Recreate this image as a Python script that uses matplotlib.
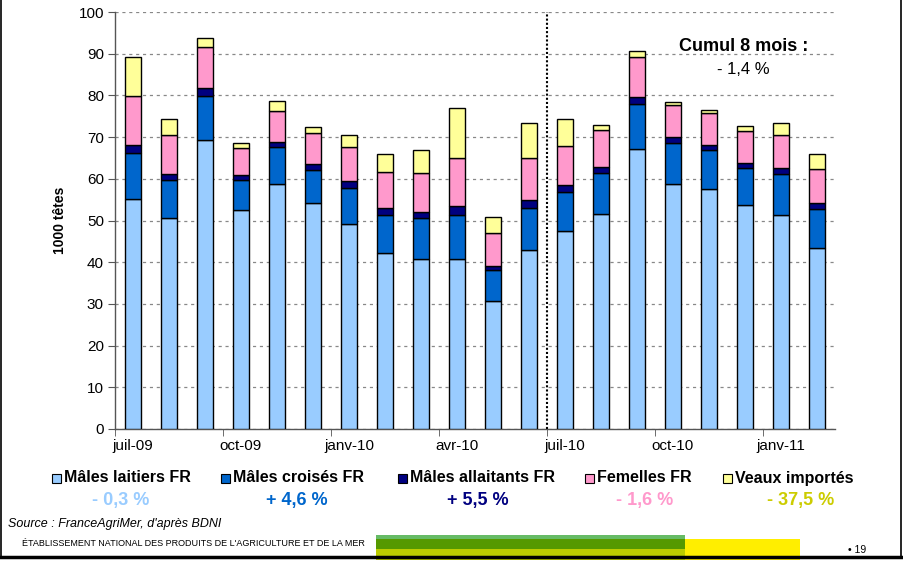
import matplotlib
matplotlib.use("Agg")
import matplotlib.pyplot as plt
from matplotlib.patches import Rectangle
from matplotlib.lines import Line2D
import numpy as np

plt.rcParams['font.family'] = ['Liberation Sans', 'DejaVu Sans']

months = ["juil-09", "août-09", "sept-09", "oct-09", "nov-09", "déc-09", "janv-10",
          "févr-10", "mars-10", "avr-10", "mai-10", "juin-10", "juil-10", "août-10",
          "sept-10", "oct-10", "nov-10", "déc-10", "janv-11", "févr-11"]
tick_labels = ["juil-09", "oct-09", "janv-10", "avr-10", "juil-10", "oct-10", "janv-11"]

males_laitiers = [55.1, 50.5, 69.3, 52.5, 58.8, 54.2, 49.1, 42.2, 40.8, 40.8,
                  30.6, 43.0, 47.4, 51.5, 67.1, 58.7, 57.5, 53.7, 51.3, 43.4]
males_croises = [11.0, 9.1, 10.6, 7.1, 8.8, 8.0, 8.8, 9.2, 9.7, 10.6,
                 7.5, 10.0, 9.4, 9.9, 10.8, 9.8, 9.4, 8.8, 9.9, 9.3]
males_allaitants = [2.1, 1.5, 1.9, 1.4, 1.2, 1.3, 1.5, 1.6, 1.5, 2.0,
                    1.1, 2.0, 1.7, 1.5, 1.7, 1.5, 1.2, 1.4, 1.4, 1.5]
femelles = [11.6, 9.3, 9.7, 6.3, 7.4, 7.5, 8.2, 8.6, 9.4, 11.6,
            7.8, 10.0, 9.3, 8.8, 9.6, 7.8, 7.7, 7.5, 8.0, 8.1]
veaux_importes = [9.4, 3.9, 2.2, 1.2, 2.4, 1.4, 2.8, 4.3, 5.5, 12.0,
                  3.8, 8.4, 6.5, 1.2, 1.4, 0.5, 0.7, 1.2, 2.8, 3.6]

series_names = ["Mâles laitiers FR", "Mâles croisés FR", "Mâles allaitants FR",
                "Femelles FR", "Veaux importés"]
series_colors = ["#99CCFF", "#0066CC", "#000080", "#FF99CC", "#FFFF99"]
evolutions = ["- 0,3 %", "+ 4,6 %", "+ 5,5 %", "- 1,6 %", "- 37,5 %"]
evolution_colors = ["#99CCFF", "#0066CC", "#000080", "#FF99CC", "#CCCC00"]
cumul_title = "Cumul 8 mois :"
cumul_value = "- 1,4 %"

W, H = 904, 562
fig = plt.figure(figsize=(W / 100, H / 100), dpi=100)
ax = fig.add_axes([115 / W, 1 - 429 / H, 720 / W, 417 / H])

x = np.arange(len(months))
bottom = np.zeros(len(months))
for vals, name, col in zip([males_laitiers, males_croises, males_allaitants, femelles, veaux_importes],
                           series_names, series_colors):
    ax.bar(x, vals, width=0.44, bottom=bottom, color=col, edgecolor="black",
           linewidth=1.0, label=name, zorder=3)
    bottom += np.array(vals)

ax.set_xlim(-0.5, len(months) - 0.5)
ax.set_ylim(0, 100)
ax.set_yticks(np.arange(0, 101, 10))
ax.tick_params(axis='y', labelsize=11, direction='out', length=5, color="#555555", pad=3)
ax.yaxis.grid(True, linestyle=(0, (2.5, 3)), color="#888888", linewidth=0.9, zorder=0)

label_pos = [months.index(t) for t in tick_labels]
ax.set_xticks(label_pos)
ax.set_xticklabels(tick_labels, fontsize=11)
ax.tick_params(axis='x', length=0, pad=7)
ax.set_xticks(np.arange(-0.5, len(months), 3), minor=True)
ax.tick_params(axis='x', which='minor', length=5, direction='out', color="#555555")

for s in ["top", "right"]:
    ax.spines[s].set_visible(False)
for s in ["left", "bottom"]:
    ax.spines[s].set_color("#555555")
    ax.spines[s].set_linewidth(1.0)

ax.axvline(11.5, ymin=0, ymax=1, color="black", linestyle=(0, (1, 1)), linewidth=1.5, zorder=4)

ax.set_ylabel("1000 têtes", fontsize=10, fontweight="bold", labelpad=8)

ax.text(16.95, 91.8, cumul_title, ha="center", va="center", fontsize=13, fontweight="bold")
ax.text(16.95, 86.3, cumul_value, ha="center", va="center", fontsize=12)

# legend row
leg_sq_x = [52, 221, 398, 585, 723]
leg_y = 1 - 478 / H
for name, col, sx in zip(series_names, series_colors, leg_sq_x):
    fig.patches.append(Rectangle((sx / W, leg_y - 4.5 / H), 9 / W, 9 / H,
                                 transform=fig.transFigure, facecolor=col,
                                 edgecolor="black", linewidth=0.8))
    fig.text((sx + 12) / W, leg_y, name, ha="left", va="center", fontsize=11.5,
             fontweight="bold")

evo_x = [121, 297, 478, 645, 801]
for txt, col, ex in zip(evolutions, evolution_colors, evo_x):
    fig.text(ex / W, 1 - 500 / H, txt, ha="center", va="center", fontsize=13,
             fontweight="bold", color=col)

fig.text(8 / W, 1 - 524 / H, "Source : FranceAgriMer, d'après BDNI", ha="left",
         va="center", fontsize=9, style="italic")
fig.text(22 / W, 1 - 544 / H, "ÉTABLISSEMENT NATIONAL DES PRODUITS DE L'AGRICULTURE ET DE LA MER",
         ha="left", va="center", fontsize=6.5)
fig.text(848 / W, 1 - 550 / H, "• 19", ha="left", va="center", fontsize=7.5)

# decorative bands
def band(x0, y0, x1, y1, col):
    fig.patches.append(Rectangle((x0 / W, 1 - y1 / H), (x1 - x0) / W, (y1 - y0) / H,
                                 transform=fig.transFigure, facecolor=col,
                                 edgecolor="none", zorder=1))

band(376, 535, 685, 539, "#66BB66")
band(376, 539, 685, 549, "#559900")
band(376, 549, 685, 560, "#BBCC00")
band(685, 539, 800, 560, "#FFEE00")

fig.lines.append(Line2D([0, 1], [1 - 557 / H, 1 - 557 / H], transform=fig.transFigure,
                        color="black", linewidth=2.5, zorder=5))
fig.lines.append(Line2D([1.5 / W, 1.5 / W], [1 - 557 / H, 1], transform=fig.transFigure,
                        color="black", linewidth=1.2))
fig.lines.append(Line2D([901 / W, 901 / W], [1 - 557 / H, 1], transform=fig.transFigure,
                        color="black", linewidth=1.2))

fig.savefig("out.png", dpi=100)
